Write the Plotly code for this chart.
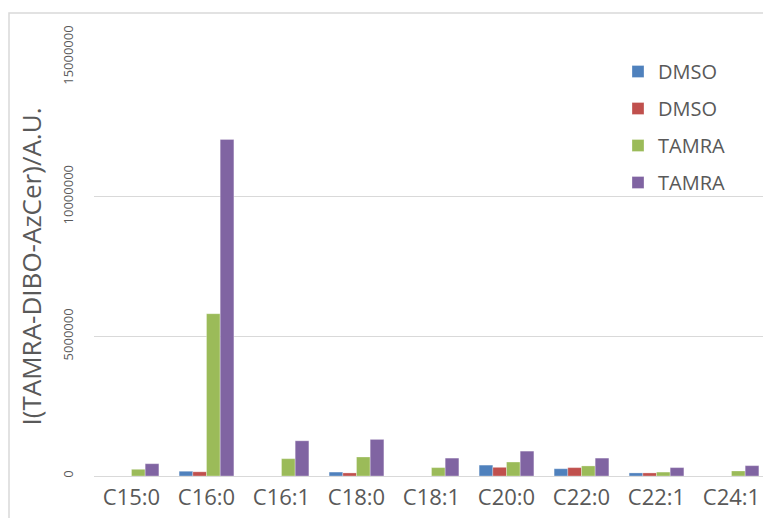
import plotly.graph_objects as go

categories = ["C15:0", "C16:0", "C16:1", "C18:0", "C18:1", "C20:0", "C22:0", "C22:1", "C24:1"]

dmso_1 = [0, 170000, 0, 140000, 0, 390000, 260000, 110000, 0]
dmso_2 = [0, 150000, 0, 110000, 0, 310000, 300000, 110000, 0]
tamra_1 = [240000, 5810000, 620000, 680000, 300000, 500000, 360000, 140000, 180000]
tamra_2 = [440000, 12050000, 1260000, 1310000, 640000, 890000, 640000, 300000, 370000]

series = [
    ("DMSO", dmso_1, "#4F81BD"),
    ("DMSO", dmso_2, "#C0504D"),
    ("TAMRA", tamra_1, "#9BBB59"),
    ("TAMRA", tamra_2, "#8064A2"),
]

W, H = 763, 518
ML, MR, MT, MB = 94, 0, 57, 42

fig = go.Figure()
for i, (name, vals, color) in enumerate(series):
    fig.add_trace(go.Bar(
        x=categories, y=vals, name=name, legendgroup=f"g{i}",
        marker=dict(color=color, line=dict(color="rgba(255,255,255,0.6)", width=0.5)),
    ))

text_color = "#595959"
grid_color = "#D9D9D9"

plot_w = W - ML - MR
plot_h = H - MT - MB

fig.update_layout(
    width=W, height=H,
    margin=dict(l=ML, r=MR, t=MT, b=MB, pad=0),
    paper_bgcolor="white", plot_bgcolor="white",
    font=dict(family="Open Sans, sans-serif", color=text_color),
    barmode="group", bargap=0.27, bargroupgap=0,
    showlegend=True,
    legend=dict(
        x=(618 - ML) / plot_w, y=1 - (52 - MT) / plot_h,
        xanchor="left", yanchor="top",
        font=dict(size=20, color=text_color),
        traceorder="grouped", tracegroupgap=8,
        bgcolor="rgba(0,0,0,0)",
    ),
    xaxis=dict(
        range=[-0.5, 8.42],
        showgrid=False, showline=True, linecolor=grid_color, linewidth=1,
        ticks="", tickfont=dict(size=22, color=text_color),
        ticklabelstandoff=2,
        fixedrange=True,
    ),
    yaxis=dict(
        range=[0, 15000000],
        tickvals=[0, 5000000, 10000000, 15000000],
        ticktext=["0", "5000000", "10000000", "15000000"],
        tickangle=-90, tickfont=dict(size=13, color=text_color),
        ticklabelstandoff=17,
        showgrid=True, gridcolor=grid_color, gridwidth=1,
        zeroline=False, showline=False, ticks="",
        title=dict(text="I(TAMRA-DIBO-AzCer)/A.U.", font=dict(size=26, color=text_color), standoff=10),
    ),
)

# outer chart frame
fig.add_shape(
    type="rect", xref="paper", yref="paper",
    x0=(9 - ML) / plot_w, x1=(W + 20 - ML) / plot_w,
    y0=-(H + 20 - MT - plot_h) / plot_h, y1=1 + (MT - 13) / plot_h,
    line=dict(color=grid_color, width=1.5), fillcolor="rgba(0,0,0,0)", layer="below",
)

fig.write_html("out.html")
